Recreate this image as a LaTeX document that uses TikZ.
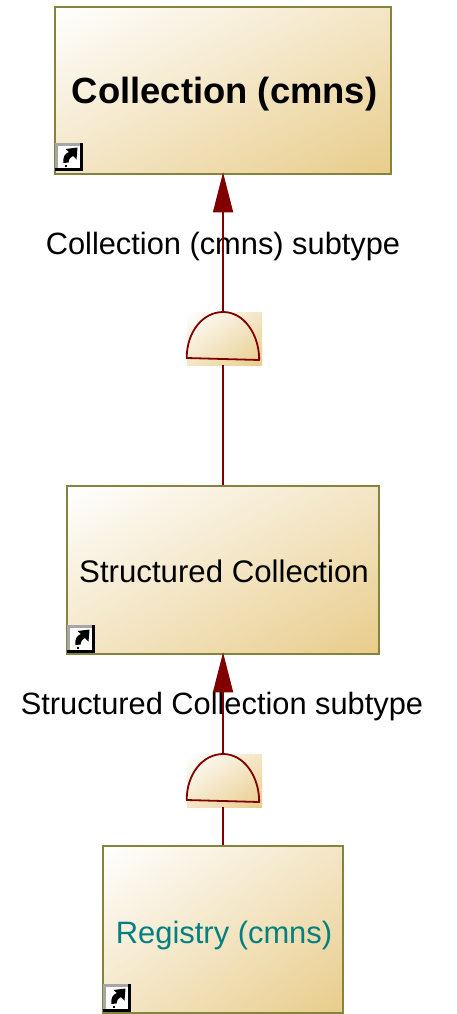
\documentclass[tikz,border=0pt]{standalone}
\usepackage{fontspec}
\setmainfont{Liberation Sans}
\usetikzlibrary{arrows.meta,shadings}
\definecolor{boxline}{HTML}{84843F}
\definecolor{linkred}{HTML}{800000}
\definecolor{goldend}{HTML}{E8CC8A}
\definecolor{goldmid}{HTML}{F4E6C6}
\definecolor{tealtext}{HTML}{008080}
\tikzset{
  x=1pt,y=-1pt,
  golden/.style={shade,upper left=white,lower right=goldend,upper right=goldmid,lower left=goldmid},
  classbox/.style={golden,draw=boxline,line width=1.7pt,inner sep=0pt,anchor=north west,align=center},
  gatebg/.style={golden,inner sep=0pt,anchor=north west,minimum width=75pt,minimum height=53pt},
  link/.style={draw=linkred,line width=1.8pt},
  arrowlink/.style={link,shorten >=-2.5pt,-{Triangle[length=40pt,width=20pt,fill=linkred]}},
  gateshape/.style={draw=linkred,line width=1.8pt,line join=round},
  edgelabel/.style={inner sep=0pt,font=\fontsize{30.8}{34}\selectfont,text=black},
}
\newcommand{\shortcuticon}[2]{%
  \begin{scope}[shift={(#1,#2)}]
    \fill[black] (0,0) rectangle (28,28);
    \fill[gray!70] (0,0) rectangle (25,25);
    \fill[white] (2.5,2.5) rectangle (25,25);
    \fill[black] (8.5,20) .. controls (7.5,14) and (10,10.5) .. (14,9) -- (10.5,6) -- (22.5,4.5) -- (21.5,16.5) -- (18,13) .. controls (14.5,15) and (13.5,17) .. (13.5,19.5) -- cycle;
    \fill[black] (9.5,22) rectangle (12,24);
  \end{scope}}
\newcommand{\gatecurve}[2]{%
  \draw[gateshape] (#1,#2+46) .. controls (#1,#2+20) and (#1+16,#2) .. (#1+36.5,#2)
    .. controls (#1+57,#2) and (#1+72.5,#2+22) .. (#1+72.5,#2+48) -- cycle;}
\begin{document}
\begin{tikzpicture}
\useasboundingbox (0,0) rectangle (457,1014);
\node[classbox,minimum width=336pt,minimum height=167pt,text height=29pt,text depth=3pt,font=\fontsize{36.4}{40}\selectfont\bfseries] (collection) at (54.2,6.2) {\hspace*{3pt}Collection (cmns)};
\node[classbox,minimum width=312pt,minimum height=168pt,text height=25pt,text depth=0pt,font=\fontsize{31.2}{34}\selectfont] (structured) at (66.2,485.2) {\hspace*{2pt}Structured Collection};
\node[classbox,minimum width=240pt,minimum height=167pt,text height=28pt,text depth=0pt,font=\fontsize{30.9}{34}\selectfont,text=tealtext] (registry) at (102.2,845.2) {\hspace*{2pt}Registry (cmns)};
\shortcuticon{55}{143}
\shortcuticon{67}{625}
\shortcuticon{103}{984}
\node[gatebg] (gateone) at (187,312) {};
\node[gatebg] (gatetwo) at (187,754) {};
\node[edgelabel] (labelone) at (223,247) {Collection (cmns) subtype};
\node[edgelabel] (labeltwo) at (222,707) {Structured Collection subtype};
\draw[arrowlink] (collection.south |- gateone.north) -- (collection.south);
\draw[link] (structured.north) -- (structured.north |- gateone.south);
\draw[arrowlink] (structured.south |- gatetwo.north) -- (structured.south);
\draw[link] (registry.north) -- (registry.north |- gatetwo.south);
\gatecurve{186.7}{312}
\gatecurve{186.7}{754}
\end{tikzpicture}
\end{document}
